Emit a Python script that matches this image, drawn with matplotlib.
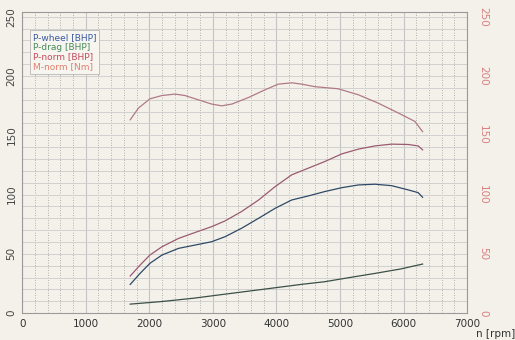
import numpy as np
from matplotlib import pyplot as plt
from matplotlib.ticker import MultipleLocator

# data
rpm = [1700, 1855, 2010, 2200, 2460, 2720, 2980, 3190, 3450, 3720, 3980, 4240,
       4500, 4760, 5030, 5290, 5550, 5810, 6075, 6230, 6300]
p_wheel = [24.2, 33.5, 42.0, 49.0, 54.6, 57.4, 60.2, 64.4, 71.5, 80.0, 88.4, 95.4,
           98.8, 102.5, 105.8, 108.1, 108.7, 107.5, 103.9, 101.6, 97.7]
p_norm = [31.3, 40.5, 49.0, 56.0, 63.0, 68.0, 72.9, 77.7, 85.6, 95.4, 106.7, 116.6,
          122.2, 127.8, 134.3, 138.3, 141.0, 142.5, 142.2, 141.0, 137.7]

rpm_drag = [1700, 2200, 2700, 3190, 3600, 3980, 4400, 4760, 5150, 5550, 5950, 6300]
p_drag = [7.6, 9.8, 12.6, 16.0, 18.8, 21.4, 24.3, 26.5, 30.0, 33.5, 37.2, 41.4]

rpm_torque = [1700, 1830, 2010, 2200, 2405, 2560, 2770, 2980, 3140, 3300, 3560, 3820,
              4030, 4240, 4400, 4610, 4970, 5290, 5600, 5920, 6180, 6300]
m_norm = [163.0, 172.9, 180.7, 183.5, 184.7, 183.5, 179.9, 176.3, 174.8, 176.3, 181.8, 188.3,
          193.1, 194.2, 193.1, 190.9, 189.2, 184.1, 177.1, 168.7, 161.6, 153.0]

bg = "#f3f1ea"
fig = plt.figure(figsize=(5.15, 3.4), dpi=100, facecolor=bg)
ax = fig.add_axes([0.043, 0.079, 0.864, 0.886])
ax.set_facecolor(bg)

ax.set_xlim(0, 7000)
ax.set_ylim(0, 254)

# grid: solid every 1000 rpm / 10 units, dotted every 200 rpm
ax.xaxis.set_minor_locator(MultipleLocator(200))
ax.yaxis.set_minor_locator(MultipleLocator(10))
ax.grid(which="minor", axis="x", color="#9a9a9a", linestyle=(0, (1, 2)), linewidth=0.6)
ax.grid(which="major", axis="x", color="#c4c4c4", linestyle="-", linewidth=0.8)
ax.grid(which="minor", axis="y", color="#d0d0d0", linestyle="-", linewidth=0.7)
ax.grid(which="major", axis="y", color="#d0d0d0", linestyle="-", linewidth=0.7)
ax.set_axisbelow(True)

ax.set_xticks(np.arange(0, 7001, 1000))
ax.set_yticks(np.arange(0, 251, 50))
ax.tick_params(which="both", length=0)
ax.tick_params(axis="x", labelsize=7.5, colors="#333333", pad=4)
ax.tick_params(axis="y", labelsize=7.5, colors="#444444", pad=4)
for lab in ax.get_yticklabels():
    lab.set_rotation(90)
    lab.set_va("center")

for s in ax.spines.values():
    s.set_color("#9a9a9a")
    s.set_linewidth(0.8)

l1, = ax.plot(rpm, p_wheel, color="#2f4a66", lw=0.9, label="P-wheel [BHP]")
l2, = ax.plot(rpm_drag, p_drag, color="#3c5048", lw=0.9, label="P-drag [BHP]")
l3, = ax.plot(rpm, p_norm, color="#9a5a72", lw=0.9, label="P-norm [BHP]")
l4, = ax.plot(rpm_torque, m_norm, color="#b07a86", lw=0.9, label="M-norm [Nm]")

ax2 = ax.twinx()
ax2.set_ylim(0, 254)
ax2.set_yticks(np.arange(0, 251, 50))
ax2.tick_params(length=0, labelsize=7.5, colors="#d88080", pad=8)
for lab in ax2.get_yticklabels():
    lab.set_rotation(270)
    lab.set_va("center")
for s in ax2.spines.values():
    s.set_visible(False)

leg = ax.legend(handles=[l1, l2, l3, l4], loc="upper left", bbox_to_anchor=(0.008, 0.955),
                fontsize=6.5, handlelength=0, handletextpad=0, borderpad=0.3,
                labelspacing=0.1, fancybox=False, framealpha=1)
leg.get_frame().set_facecolor("#f6f5f0")
leg.get_frame().set_edgecolor("#b8b8b8")
leg.get_frame().set_linewidth(0.6)
for h in leg.legend_handles:
    h.set_visible(False)
for t, c in zip(leg.get_texts(), ["#3a5aa0", "#4a8a5c", "#c44a5a", "#e08070"]):
    t.set_color(c)

fig.text(0.963, 0.002, "n [rpm]", fontsize=7.5, color="#333333", ha="center", va="bottom")

fig.savefig("out.png", dpi=100, facecolor=bg)
